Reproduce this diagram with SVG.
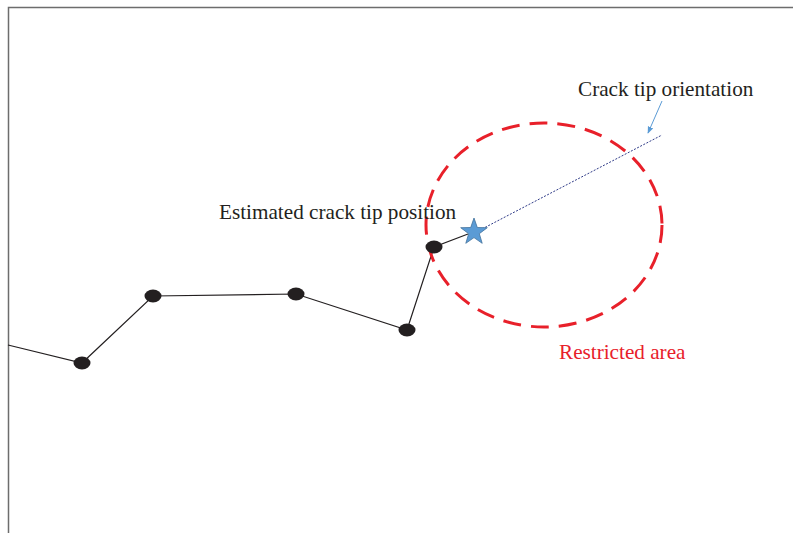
<svg xmlns="http://www.w3.org/2000/svg" width="794" height="533" viewBox="0 0 794 533">
<style>
.t{font-family:"Liberation Serif","Times New Roman",serif;font-size:21.2px;fill:#231f20}
.node{fill:#231f20}
.edge{stroke:#231f20;stroke-width:1.2;fill:none}
</style>
<defs>
<marker id="ah" viewBox="0 0 10 10" refX="9" refY="5" markerWidth="7" markerHeight="7" orient="auto-start-reverse">
<path d="M0,1 L10,5 L0,9 z" fill="#5b9bd5"/>
</marker>
</defs>
<rect width="794" height="533" fill="#fff"/>
<g id="frame">
<polyline points="8.5,533 8.5,7.5 793,7.5" fill="none" stroke="#6d6d6d" stroke-width="1.5"/>
</g>
<g id="connectors">
<polyline class="edge" points="8,345 82,363 153,296 296,294 407,330 434,247 468,234"/>
<line x1="482" y1="229" x2="662" y2="135" stroke="#2e3a87" stroke-width="1" stroke-dasharray="2,1.5"/>
<line x1="662" y1="101" x2="648" y2="133" stroke="#5b9bd5" stroke-width="1" marker-end="url(#ah)"/>
</g>
<g id="restricted-area">
<ellipse cx="544" cy="225" rx="118" ry="102" fill="none" stroke="#e8202a" stroke-width="3" stroke-dasharray="18,10"/>
</g>
<g id="n1"><ellipse class="node" cx="82" cy="363" rx="8.5" ry="6.5"/></g>
<g id="n2"><ellipse class="node" cx="153" cy="296" rx="8.5" ry="6.5"/></g>
<g id="n3"><ellipse class="node" cx="296" cy="294" rx="8.5" ry="6.5"/></g>
<g id="n4"><ellipse class="node" cx="407" cy="330" rx="8.5" ry="6.5"/></g>
<g id="n5"><ellipse class="node" cx="434" cy="247" rx="8.5" ry="6.5"/></g>
<g id="tip">
<polygon points="474,218 477.3,227.5 487.3,227.7 479.3,233.7 482.2,243.3 474,237.6 465.8,243.3 468.7,233.7 460.7,227.7 470.7,227.5" fill="#5b9bd5" stroke="#41719c" stroke-width="0.8"/>
</g>
<g id="labels">
<text class="t" x="578" y="96">Crack tip orientation</text>
<text class="t" x="219" y="219">Estimated crack tip position</text>
<text class="t" x="559" y="359" style="fill:#e8202a">Restricted area</text>
</g>
</svg>
